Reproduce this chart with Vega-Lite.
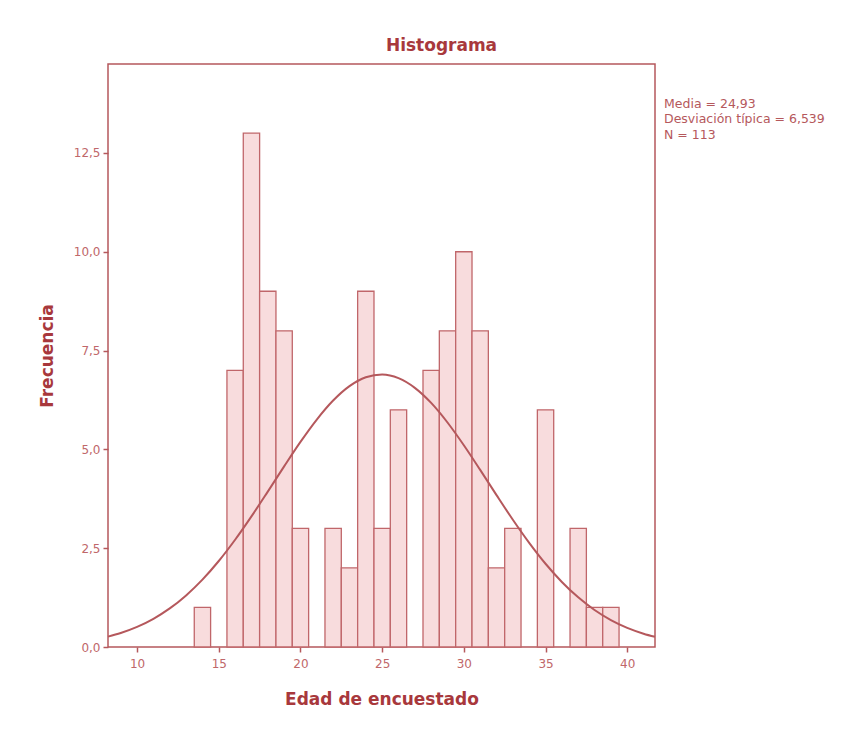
{
  "$schema": "https://vega.github.io/schema/vega-lite/v6.json",
  "autosize": "none",
  "width": 547,
  "height": 583,
  "padding": {"left": 108, "top": 64, "right": 212, "bottom": 89},
  "background": "white",
  "config": {
    "font": "DejaVu Sans",
    "view": {"stroke": "#b5585c", "strokeWidth": 1.5},
    "axis": {
      "grid": false,
      "domain": false,
      "tickColor": "#b5585c",
      "tickWidth": 1.5,
      "tickSize": 5,
      "labelColor": "#c0676a",
      "labelFont": "DejaVu Sans",
      "labelFontSize": 12,
      "titleColor": "#a8383c",
      "titleFont": "DejaVu Sans",
      "titleFontSize": 17,
      "titleFontWeight": "bold"
    }
  },
  "title": {
    "text": "Histograma",
    "font": "DejaVu Sans",
    "fontSize": 17,
    "fontWeight": "bold",
    "color": "#a8383c",
    "anchor": "middle",
    "dx": 60,
    "offset": 9
  },
  "datasets": {
    "barras": [
      {"edad": 14, "desde": 13.5, "hasta": 14.5, "frecuencia": 1},
      {"edad": 16, "desde": 15.5, "hasta": 16.5, "frecuencia": 7},
      {"edad": 17, "desde": 16.5, "hasta": 17.5, "frecuencia": 13},
      {"edad": 18, "desde": 17.5, "hasta": 18.5, "frecuencia": 9},
      {"edad": 19, "desde": 18.5, "hasta": 19.5, "frecuencia": 8},
      {"edad": 20, "desde": 19.5, "hasta": 20.5, "frecuencia": 3},
      {"edad": 22, "desde": 21.5, "hasta": 22.5, "frecuencia": 3},
      {"edad": 23, "desde": 22.5, "hasta": 23.5, "frecuencia": 2},
      {"edad": 24, "desde": 23.5, "hasta": 24.5, "frecuencia": 9},
      {"edad": 25, "desde": 24.5, "hasta": 25.5, "frecuencia": 3},
      {"edad": 26, "desde": 25.5, "hasta": 26.5, "frecuencia": 6},
      {"edad": 28, "desde": 27.5, "hasta": 28.5, "frecuencia": 7},
      {"edad": 29, "desde": 28.5, "hasta": 29.5, "frecuencia": 8},
      {"edad": 30, "desde": 29.5, "hasta": 30.5, "frecuencia": 10},
      {"edad": 31, "desde": 30.5, "hasta": 31.5, "frecuencia": 8},
      {"edad": 32, "desde": 31.5, "hasta": 32.5, "frecuencia": 2},
      {"edad": 33, "desde": 32.5, "hasta": 33.5, "frecuencia": 3},
      {"edad": 35, "desde": 34.5, "hasta": 35.5, "frecuencia": 6},
      {"edad": 37, "desde": 36.5, "hasta": 37.5, "frecuencia": 3},
      {"edad": 38, "desde": 37.5, "hasta": 38.5, "frecuencia": 1},
      {"edad": 39, "desde": 38.5, "hasta": 39.5, "frecuencia": 1}
    ],
    "curva": [
      {"edad": 8.22, "frecuencia": 0.263},
      {"edad": 9, "frecuencia": 0.355},
      {"edad": 10, "frecuencia": 0.509},
      {"edad": 11, "frecuencia": 0.714},
      {"edad": 12, "frecuencia": 0.976},
      {"edad": 13, "frecuencia": 1.306},
      {"edad": 14, "frecuencia": 1.705},
      {"edad": 15, "frecuencia": 2.176},
      {"edad": 16, "frecuencia": 2.714},
      {"edad": 17, "frecuencia": 3.305},
      {"edad": 18, "frecuencia": 3.932},
      {"edad": 19, "frecuencia": 4.570},
      {"edad": 20, "frecuencia": 5.189},
      {"edad": 21, "frecuencia": 5.755},
      {"edad": 22, "frecuencia": 6.236},
      {"edad": 23, "frecuencia": 6.600},
      {"edad": 24, "frecuencia": 6.825},
      {"edad": 25, "frecuencia": 6.894},
      {"edad": 26, "frecuencia": 6.802},
      {"edad": 27, "frecuencia": 6.557},
      {"edad": 28, "frecuencia": 6.175},
      {"edad": 29, "frecuencia": 5.680},
      {"edad": 30, "frecuencia": 5.104},
      {"edad": 31, "frecuencia": 4.481},
      {"edad": 32, "frecuencia": 3.843},
      {"edad": 33, "frecuencia": 3.219},
      {"edad": 34, "frecuencia": 2.635},
      {"edad": 35, "frecuencia": 2.106},
      {"edad": 36, "frecuencia": 1.646},
      {"edad": 37, "frecuencia": 1.256},
      {"edad": 38, "frecuencia": 0.936},
      {"edad": 39, "frecuencia": 0.681},
      {"edad": 40, "frecuencia": 0.484},
      {"edad": 41, "frecuencia": 0.337},
      {"edad": 41.7, "frecuencia": 0.257}
    ]
  },
  "layer": [
    {
      "data": {"name": "barras"},
      "mark": {"type": "rect", "fill": "#f8dcdd", "stroke": "#c0666a", "strokeWidth": 1.3},
      "encoding": {
        "x": {
          "field": "desde",
          "type": "quantitative",
          "scale": {"domain": [8.22, 41.7], "nice": false, "zero": false},
          "axis": {
            "title": "Edad de encuestado",
            "values": [10, 15, 20, 25, 30, 35, 40],
            "labelPadding": 6,
            "titlePadding": 22
          }
        },
        "x2": {"field": "hasta"},
        "y": {
          "field": "frecuencia",
          "type": "quantitative",
          "scale": {"domain": [0, 14.75], "nice": false},
          "axis": {
            "title": "Frecuencia",
            "values": [0, 2.5, 5, 7.5, 10, 12.5],
            "labelExpr": "replace(format(datum.value, '.1f'), '.', ',')",
            "labelPadding": 3,
            "titlePadding": 17
          }
        },
        "y2": {"datum": 0}
      }
    },
    {
      "data": {"name": "curva"},
      "mark": {"type": "line", "color": "#b5585c", "strokeWidth": 2, "interpolate": "monotone"},
      "encoding": {
        "x": {"field": "edad", "type": "quantitative"},
        "y": {"field": "frecuencia", "type": "quantitative"}
      }
    },
    {
      "data": {"values": [{"texto": ["Media = 24,93", "Desviación típica = 6,539", "N = 113"]}]},
      "mark": {
        "type": "text",
        "align": "left",
        "baseline": "middle",
        "dx": 9,
        "fontSize": 12.5,
        "lineHeight": 15.5,
        "color": "#b5585c",
        "font": "DejaVu Sans"
      },
      "encoding": {
        "x": {"datum": 41.7},
        "y": {"datum": 13.75},
        "text": {"field": "texto"}
      }
    }
  ]
}
